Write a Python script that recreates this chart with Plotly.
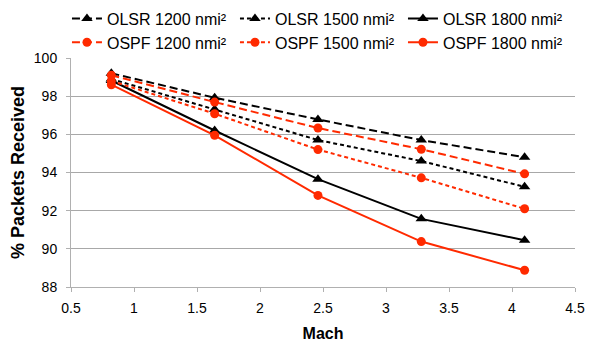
import plotly.graph_objects as go

mach = [0.82, 1.64, 2.46, 3.28, 4.1]
olsr_1200 = [99.2, 97.92, 96.78, 95.7, 94.8]
olsr_1500 = [98.9, 97.32, 95.7, 94.6, 93.25]
olsr_1800 = [98.82, 96.2, 93.65, 91.57, 90.45]
ospf_1200 = [99.1, 97.69, 96.33, 95.22, 93.93]
ospf_1500 = [98.8, 97.08, 95.2, 93.72, 92.1]
ospf_1800 = [98.6, 95.95, 92.8, 90.38, 88.88]

names = ["OLSR 1200 nmi²", "OLSR 1500 nmi²", "OLSR 1800 nmi²",
         "OSPF 1200 nmi²", "OSPF 1500 nmi²", "OSPF 1800 nmi²"]
series = [olsr_1200, olsr_1500, olsr_1800, ospf_1200, ospf_1500, ospf_1800]

BLACK = "#000000"
RED = "#FF2A00"
styles = [
    (BLACK, "8px,4px", "triangle-up"),
    (BLACK, "4px,3px", "triangle-up"),
    (BLACK, "solid", "triangle-up"),
    (RED, "8px,4px", "circle"),
    (RED, "4px,3px", "circle"),
    (RED, "solid", "circle"),
]

fig = go.Figure()
for name, ys, (col, dash, sym) in zip(names, series, styles):
    fig.add_trace(go.Scatter(
        x=mach, y=ys, name=name, mode="lines+markers",
        line=dict(color=col, width=2, dash=dash),
        marker=dict(color=col, symbol=sym, size=9 if sym == "circle" else 10),
    ))

font_family = "Liberation Sans, Arial, sans-serif"
fig.update_layout(
    width=590, height=344,
    margin=dict(l=71, r=15, t=58, b=57, autoexpand=False),
    paper_bgcolor="white", plot_bgcolor="white",
    font=dict(family=font_family, color="#000000"),
    showlegend=True,
    legend=dict(
        orientation="h", x=-0.008, y=1.2465, xanchor="left", yanchor="top",
        entrywidth=123, entrywidthmode="pixels",
        font=dict(size=16, family=font_family, color="#000000"),
        itemwidth=30, tracegroupgap=0, bgcolor="rgba(0,0,0,0)",
    ),
    xaxis=dict(
        range=[0.5, 4.5], dtick=0.5, tick0=0.5,
        showgrid=False, zeroline=False,
        showline=True, linecolor="#b0b0b0", linewidth=1,
        ticks="outside", ticklen=4, tickcolor="#b0b0b0",
        ticklabelstandoff=4,
        tickfont=dict(size=14, color="#000000"),
        title=dict(text="<b>Mach</b>", font=dict(size=16), standoff=13),
    ),
    yaxis=dict(
        range=[88, 100], dtick=2, tick0=88,
        showgrid=True, gridcolor="#a8a8a8", gridwidth=1, zeroline=False,
        showline=True, linecolor="#b0b0b0", linewidth=1,
        ticks="outside", ticklen=4, tickcolor="#b0b0b0",
        ticklabelstandoff=6,
        tickfont=dict(size=14, color="#000000"),
        title=dict(text="<b>% Packets Received</b>", font=dict(size=18), standoff=4),
    ),
)

fig.write_html(
    "out.html",
    config={"displayModeBar": False},
    post_script="document.body.style.margin='0';document.body.style.overflow='hidden';",
)
